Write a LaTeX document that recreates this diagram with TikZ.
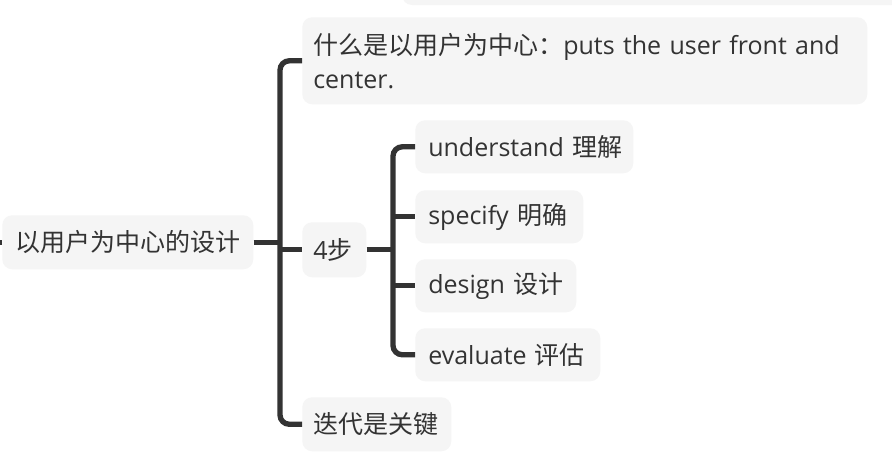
\documentclass[tikz,border=0pt]{standalone}
\usepackage{fontspec}
\setmainfont{Open Sans}
\newfontfamily\cjk{Noto Sans CJK SC}
\definecolor{linec}{HTML}{333333}
\definecolor{boxc}{HTML}{F5F5F5}
\definecolor{txtc}{HTML}{333333}
\newcommand\padA{\hspace*{9.75pt}}
\newcommand\padB{\hspace*{8.25pt}}
\tikzset{
  box/.style={fill=boxc, draw=none, rounded corners=7.5pt, text=txtc, align=left,
    anchor=north west, inner xsep=0pt, inner ysep=0pt, font=\fontsize{18.75}{25.5}\selectfont},
  conn/.style={draw=linec, line width=4pt, rounded corners=7pt}
}
\begin{document}
\begin{tikzpicture}[x=0.75pt,y=-0.75pt]
\clip (0,0) rectangle (892,464);
\useasboundingbox (0,0) rectangle (892,464);
\fill[white] (0,0) rectangle (892,464);
% partial box at the top
\fill[boxc, rounded corners=7.5pt] (402,-40) rectangle (910,5);
% nodes
\node[box, minimum width=188.25pt, minimum height=40.5pt, text width=188.25pt] (root) at (2,215) {\padA{\cjk 以用户为中心的设计}};
\node[box, minimum width=423.75pt, minimum height=65.25pt, text width=423.75pt] (n1) at (302,17) {\padB{\cjk 什么是以用户为中心：}puts the user front and\\\padB center.};
\node[box, minimum width=48pt, minimum height=41.25pt, text width=48pt] (n2) at (302,222) {\padB 4{\cjk 步}};
\node[box, minimum width=111.75pt, minimum height=40.5pt, text width=111.75pt] (n3) at (302,397) {\padB{\cjk 迭代是关键}};
\node[box, minimum width=163.5pt, minimum height=39.75pt, text width=163.5pt] (c1) at (415,120) {\padA understand {\cjk 理解}};
\node[box, minimum width=126pt, minimum height=39.75pt, text width=126pt] (c2) at (415,190) {\padA specify {\cjk 明确}};
\node[box, minimum width=120.75pt, minimum height=39.75pt, text width=120.75pt] (c3) at (415,259) {\padA design {\cjk 设计}};
\node[box, minimum width=138.75pt, minimum height=39.75pt, text width=138.75pt] (c4) at (415,328) {\padA evaluate {\cjk 评估}};
% spine coordinates
\coordinate (s1) at (280,0);
\coordinate (s2) at (393,0);
% connectors
\draw[conn] (root.west) -- ++(-12,0);
\draw[conn] (n1.west) -- (n1.west -| s1) -- (n3.west -| s1) -- (n3.west);
\draw[conn] (root.east) -- (root.east -| s1);
\draw[conn] (n2.west -| s1) -- (n2.west);
\draw[conn] (c1.west) -- (c1.west -| s2) -- (c4.west -| s2) -- (c4.west);
\draw[conn] (n2.east) -- (n2.east -| s2);
\draw[conn] (c2.west -| s2) -- (c2.west);
\draw[conn] (c3.west -| s2) -- (c3.west);
\end{tikzpicture}
\end{document}
